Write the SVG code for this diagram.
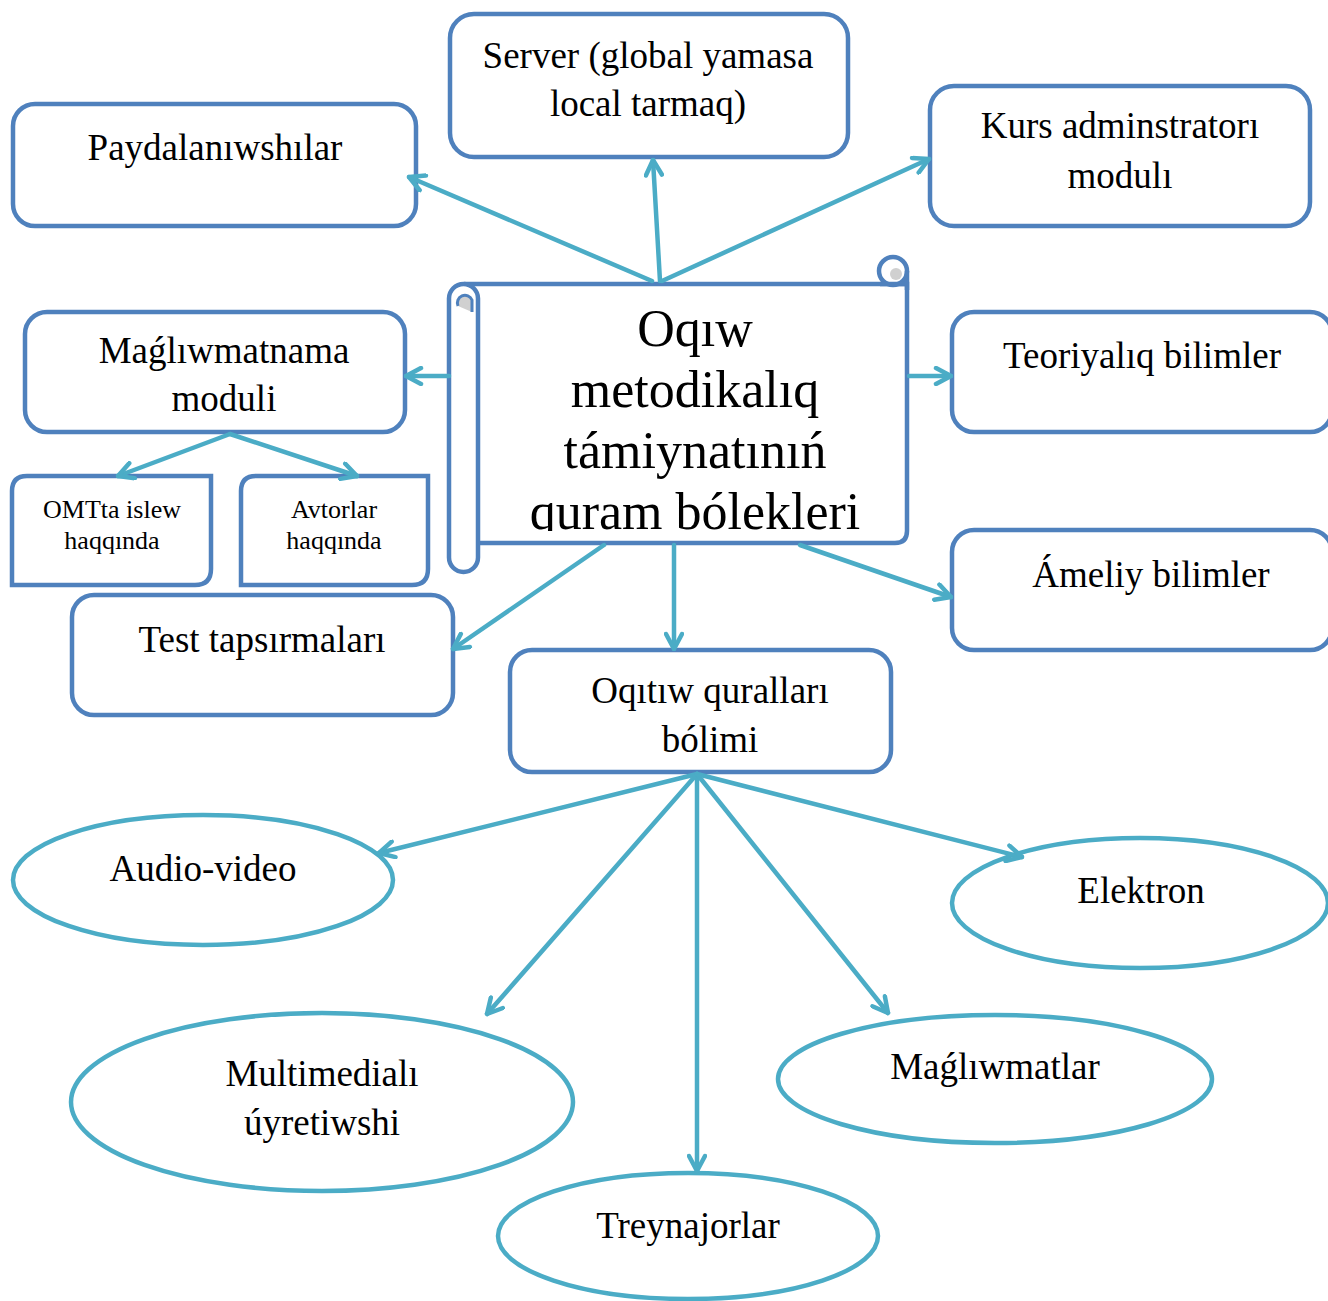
<svg xmlns="http://www.w3.org/2000/svg" width="1328" height="1301" viewBox="0 0 1328 1301">
<style>
.box{fill:#fff;stroke:#4F81BD;stroke-width:4.5}
.ell{fill:#fff;stroke:#4BACC6;stroke-width:4.5}
.t{font-family:"Liberation Serif","DejaVu Serif",serif;font-size:37px;fill:#000;text-anchor:middle}
.s{font-size:26px}
.big{font-size:52px}
.con{fill:none;stroke:#4BACC6;stroke-width:4.5;stroke-linecap:round;marker-end:url(#ah)}
</style>
<defs>
<marker id="ah" viewBox="0 0 20 20" refX="18" refY="10" markerWidth="20" markerHeight="20" markerUnits="userSpaceOnUse" orient="auto">
<path d="M3,2 L18,10 L3,18" fill="none" stroke="#4BACC6" stroke-width="4.5" stroke-linecap="round" stroke-linejoin="round"/>
</marker>
<clipPath id="cc"><rect x="470" y="290" width="430" height="241"/></clipPath>
</defs>
<rect width="1328" height="1301" fill="#fff"/>

<g id="n-paydalaniwshilar">
<rect class="box" x="13" y="104" width="403" height="122" rx="22"/>
<text class="t" x="215" y="160">Paydalanıwshılar</text>
</g>
<g id="n-server">
<rect class="box" x="450" y="14" width="398" height="143" rx="24"/>
<text class="t" x="648" y="68">Server (global yamasa</text>
<text class="t" x="648" y="116">local tarmaq)</text>
</g>
<g id="n-kurs">
<rect class="box" x="930" y="86" width="380" height="140" rx="24"/>
<text class="t" x="1120" y="138">Kurs adminstratorı</text>
<text class="t" x="1120" y="188">modulı</text>
</g>
<g id="n-center">
<path class="box" d="M464,284 L907,284 L907,531 Q907,543 895,543 L478,543"/>
<rect class="box" x="449" y="284" width="29" height="288" rx="14.5"/>
<path d="M458,306 A7,7 0 1 1 472,300 L472,312" fill="#D0D0D0" stroke="#4F81BD" stroke-width="3"/>
<circle cx="893" cy="271" r="14" fill="#fff" stroke="#4F81BD" stroke-width="4.5"/>
<circle cx="896" cy="274" r="6" fill="#D0D0D0"/>
<path d="M880,284 L907,284 M907,271 L907,290" fill="none" stroke="#4F81BD" stroke-width="4.5"/>
<g clip-path="url(#cc)">
<text class="t big" x="695" y="346">Oqıw</text>
<text class="t big" x="695" y="407">metodikalıq</text>
<text class="t big" x="695" y="468">támiynatınıń</text>
<text class="t big" x="695" y="529">quram bólekleri</text>
</g>
</g>
<g id="n-maglwmatnama">
<rect class="box" x="25" y="312" width="380" height="120" rx="22"/>
<text class="t" x="224" y="363">Maǵlıwmatnama</text>
<text class="t" x="224" y="411">moduli</text>
</g>
<g id="n-omtta">
<path class="box" d="M12,585 L12,491 Q12,476 27,476 L211,476 L211,569 Q211,585 195,585 Z"/>
<text class="t s" x="112" y="518">OMTta islew</text>
<text class="t s" x="112" y="549">haqqında</text>
</g>
<g id="n-avtorlar">
<path class="box" d="M241,585 L241,491 Q241,476 256,476 L428,476 L428,569 Q428,585 412,585 Z"/>
<text class="t s" x="334" y="518">Avtorlar</text>
<text class="t s" x="334" y="549">haqqında</text>
</g>
<g id="n-test">
<rect class="box" x="72" y="595" width="381" height="120" rx="22"/>
<text class="t" x="262" y="652">Test tapsırmaları</text>
</g>
<g id="n-teoriyaliq">
<rect class="box" x="952" y="312" width="380" height="120" rx="22"/>
<text class="t" x="1142" y="368">Teoriyalıq bilimler</text>
</g>
<g id="n-ameliy">
<rect class="box" x="952" y="530" width="380" height="120" rx="22"/>
<text class="t" x="1151" y="587">Ámeliy bilimler</text>
</g>
<g id="n-oqitiw">
<rect class="box" x="510" y="650" width="381" height="122" rx="22"/>
<text class="t" x="710" y="703">Oqıtıw quralları</text>
<text class="t" x="710" y="752">bólimi</text>
</g>
<g id="n-audio">
<ellipse class="ell" cx="203" cy="880" rx="190" ry="65"/>
<text class="t" x="203" y="881">Audio-video</text>
</g>
<g id="n-elektron">
<ellipse class="ell" cx="1140" cy="903" rx="188" ry="65"/>
<text class="t" x="1141" y="903">Elektron</text>
</g>
<g id="n-multimedia">
<ellipse class="ell" cx="322" cy="1102" rx="251" ry="89"/>
<text class="t" x="322" y="1086">Multimedialı</text>
<text class="t" x="322" y="1135">úyretiwshi</text>
</g>
<g id="n-maglwmatlar">
<ellipse class="ell" cx="995" cy="1079" rx="217" ry="64"/>
<text class="t" x="995" y="1079">Maǵlıwmatlar</text>
</g>
<g id="n-treynajorlar">
<ellipse class="ell" cx="688" cy="1236" rx="190" ry="63"/>
<text class="t" x="688" y="1238">Treynajorlar</text>
</g>

<g id="connectors">
<line class="con" x1="652" y1="281" x2="409" y2="177"/>
<line class="con" x1="660" y1="281" x2="653" y2="160"/>
<line class="con" x1="662" y1="281" x2="929" y2="159"/>
<line class="con" x1="449" y1="376" x2="406" y2="376"/>
<line class="con" x1="909" y1="376" x2="951" y2="376"/>
<line class="con" x1="230" y1="434" x2="118" y2="476"/>
<line class="con" x1="230" y1="434" x2="357" y2="476"/>
<line class="con" x1="604" y1="545" x2="453" y2="649"/>
<line class="con" x1="674" y1="545" x2="674" y2="649"/>
<line class="con" x1="800" y1="545" x2="951" y2="597"/>
<line class="con" x1="697" y1="774" x2="379" y2="853"/>
<line class="con" x1="697" y1="774" x2="487" y2="1014"/>
<line class="con" x1="697" y1="774" x2="697" y2="1171"/>
<line class="con" x1="697" y1="774" x2="888" y2="1013"/>
<line class="con" x1="697" y1="774" x2="1022" y2="857"/>
</g>
</svg>
